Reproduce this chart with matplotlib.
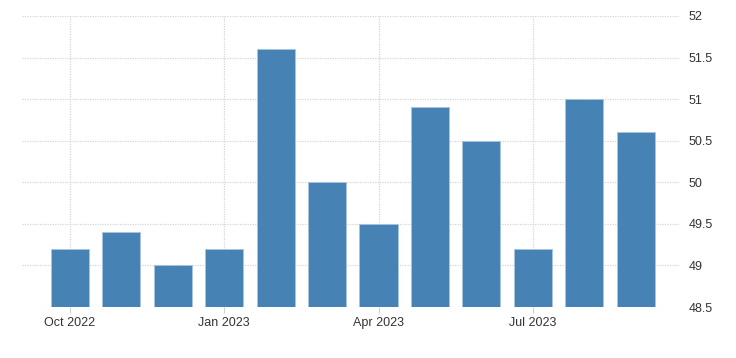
import matplotlib
matplotlib.use("Agg")
import matplotlib.pyplot as plt

months = ["Oct 2022", "Nov 2022", "Dec 2022", "Jan 2023", "Feb 2023", "Mar 2023",
          "Apr 2023", "May 2023", "Jun 2023", "Jul 2023", "Aug 2023", "Sep 2023"]
values = [49.2, 49.4, 49.0, 49.2, 51.6, 50.0, 49.5, 50.9, 50.5, 49.2, 51.0, 50.6]
tick_labels = ["Oct 2022", "Jan 2023", "Apr 2023", "Jul 2023"]
y_ticks = [48.5, 49, 49.5, 50, 50.5, 51, 51.5, 52]

plt.rcParams["font.family"] = ["Liberation Sans", "DejaVu Sans"]

fig = plt.figure(figsize=(7.36, 3.58), dpi=100)
ax = fig.add_axes([22/736, 1-307/358, (680-22)/736, (307-16)/358])

x = list(range(len(months)))
base = 48.5
ax.bar(x, [v - base for v in values], bottom=base, width=0.74,
       color="#4682b4", edgecolor="#a9c4de", linewidth=0.6, zorder=3)

ax.set_xlim(-0.93, 11.86)
ax.set_ylim(48.5, 52)
ax.set_yticks(y_ticks)
ax.set_yticklabels([f"{t:g}" for t in y_ticks])
tick_pos = [months.index(t) for t in tick_labels]
ax.set_xticks(tick_pos)
ax.set_xticklabels(tick_labels)

ax.yaxis.tick_right()
ax.tick_params(axis="both", labelsize=9, colors="#333333")
ax.tick_params(axis="y", length=0, pad=6)
ax.tick_params(axis="x", length=4, color="#d0d0d0", pad=3)

ax.grid(True, color="#d6d6d6", linestyle=(0, (1, 1)), linewidth=0.9, zorder=0)
for s in ax.spines.values():
    s.set_visible(False)

fig.savefig("out.png", dpi=100)
